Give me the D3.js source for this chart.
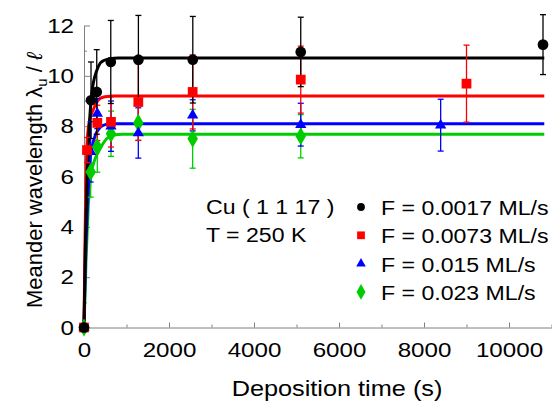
<!DOCTYPE html>
<html><head><meta charset="utf-8">
<script src="https://cdn.jsdelivr.net/npm/d3@7"></script>
<style>
html,body{margin:0;padding:0;background:#fff;}
svg{display:block;font-family:"Liberation Sans",Arial,sans-serif;}
</style></head>
<body>
<svg id="chart" width="552" height="402"></svg>
<script>
// ---- data ----
const seriesNames = ["F = 0.0017 ML/s", "F = 0.0073 ML/s", "F = 0.015 ML/s", "F = 0.023 ML/s"];
const seriesColors = ["#000000", "#ff0000", "#0000ff", "#00cc00"];

const timesBlack = [0, 165, 300, 630, 1280, 2560, 5100, 10800];
const valuesBlack = [0, 9.03, 9.36, 10.55, 10.64, 10.64, 10.95, 11.24];
const errBlack = [0, 1.52, 1.68, 1.65, 1.76, 1.72, 1.38, 1.19];

const timesRed = [0, 70, 313, 635, 1278, 2557, 5100, 9000];
const valuesRed = [0, 7.05, 8.13, 8.17, 8.96, 9.36, 9.85, 9.69];
const errRed = [0, 0.5, 0.7, 1.0, 1.52, 1.47, 1.33, 1.53];

const timesBlue = [0, 157, 313, 635, 1278, 2557, 5100, 8392];
const valuesBlue = [0, 6.98, 8.5, 8.0, 7.73, 8.43, 8.06, 8.04];
const errBlue = [0, 1.2, 0.6, 1.0, 1.0, 0.62, 0.85, 1.03];

const timesGreen = [0, 157, 313, 635, 1278, 2557, 5100];
const valuesGreen = [0, 6.18, 7.17, 7.7, 8.13, 7.5, 7.6];
const errGreen = [0, 1.0, 1.0, 0.9, 0.7, 1.17, 0.86];

// fitted saturation curves
const fitBlackT = [0, 25, 50, 75, 100, 141, 180, 220, 298, 380, 454, 612, 800, 10830];
const fitBlackV = [0, 2.6, 4.56, 6.05, 7.19, 8.47, 9.26, 9.72, 10.2, 10.5, 10.6, 10.68, 10.71, 10.71];
const fitRedT = [0, 20, 40, 63, 100, 150, 217, 300, 376, 500, 700, 10830];
const fitRedV = [0, 3.0, 5.3, 7.0, 7.9, 8.35, 8.65, 8.95, 9.1, 9.17, 9.2, 9.2];
const fitBlueT = [0, 25, 50, 75, 100, 141, 200, 259, 376, 500, 700, 10830];
const fitBlueV = [0, 2.0, 3.5, 4.6, 5.5, 6.6, 7.25, 7.6, 7.95, 8.06, 8.1, 8.1];
const fitGreenT = [0, 50, 100, 157, 260, 376, 533, 690, 900, 10830];
const fitGreenV = [0, 2.8, 4.8, 6.0, 6.7, 7.1, 7.5, 7.64, 7.68, 7.68];

const xMajorTicks = [0, 2000, 4000, 6000, 8000, 10000];
const xMinorTicks = [1000, 3000, 5000, 7000, 9000, 11000];
const yMajorTicks = [0, 2, 4, 6, 8, 10, 12];
const yMinorTicks = [1, 3, 5, 7, 9, 11];

const xTitle = "Deposition time (s)";
const sampleLabel = ["Cu ( 1 1 17 )", "T = 250 K"];

// ---- build ----
const series = [
  {t: timesGreen, v: valuesGreen, e: errGreen, ft: fitGreenT, fv: fitGreenV, color: seriesColors[3], sym: d3.symbolDiamond, size: 95, lsize: 70},
  {t: timesBlue, v: valuesBlue, e: errBlue, ft: fitBlueT, fv: fitBlueV, color: seriesColors[2], sym: d3.symbolTriangle, size: 55, lsize: 40},
  {t: timesRed, v: valuesRed, e: errRed, ft: fitRedT, fv: fitRedV, color: seriesColors[1], sym: d3.symbolSquare, size: 95, lsize: 60},
  {t: timesBlack, v: valuesBlack, e: errBlack, ft: fitBlackT, fv: fitBlackV, color: seriesColors[0], sym: d3.symbolCircle, size: 90, lsize: 48}
];

const svg = d3.select("#chart");
const FS = 21;
const SX_AXIS = 1.15, SX_LEG = 1.1;
const x = d3.scaleLinear().domain([0, 11000]).range([84, 551.5]);
const y = d3.scaleLinear().domain([0, 12]).range([327.5, 25.5]);
const axisColor = "#808080";

function hText(px, py, str, fs, sx, anchor) {
  return svg.append("text")
    .attr("transform", `translate(${px},${py}) scale(${sx},1)`)
    .attr("text-anchor", anchor || "start").attr("font-size", fs).text(str);
}

// axes
svg.append("g").attr("transform", `translate(0,${y(0)})`)
  .call(d3.axisBottom(x).tickValues(xMajorTicks).tickSize(-5).tickSizeOuter(0).tickPadding(15).tickFormat(d3.format("d")))
  .call(g => g.selectAll(".tick text").attr("transform", `scale(${SX_AXIS},1)`));
svg.append("g").attr("transform", `translate(0,${y(0)})`)
  .call(d3.axisBottom(x).tickValues(xMinorTicks).tickSize(-3).tickSizeOuter(0).tickFormat(""))
  .call(g => g.select(".domain").remove());
svg.append("g").attr("transform", `translate(${x(0)},0)`)
  .call(d3.axisLeft(y).tickValues(yMajorTicks).tickSize(-6).tickSizeOuter(0).tickPadding(10))
  .call(g => g.selectAll(".tick text").attr("x", -10 / SX_AXIS).attr("transform", `scale(${SX_AXIS},1)`));
svg.append("g").attr("transform", `translate(${x(0)},0)`)
  .call(d3.axisLeft(y).tickValues(yMinorTicks).tickSize(-3).tickSizeOuter(0).tickFormat(""))
  .call(g => g.select(".domain").remove());
svg.selectAll(".domain, .tick line").attr("stroke", axisColor).attr("stroke-width", 1);
svg.selectAll(".tick text").attr("font-size", FS).attr("fill", "#000")
  .attr("font-family", "'Liberation Sans', Arial, sans-serif");

// axis titles
hText(337, 396, xTitle, FS + 1, SX_AXIS, "middle");
const yt = svg.append("text").attr("transform", `translate(42,${(y(0) + y(12)) / 2 + 4}) rotate(-90)`)
  .attr("text-anchor", "middle").attr("font-size", FS + 1);
yt.append("tspan").text("Meander wavelength \u03bb");
yt.append("tspan").attr("font-size", FS - 6).attr("dy", 5).text("u");
yt.append("tspan").attr("dy", -5).text(" / ");
yt.append("tspan").attr("font-style", "italic").text("\u2113");

// curves, error bars, points
const line = d3.line().x(d => x(d[0])).y(d => y(d[1])).curve(d3.curveMonotoneX);
series.forEach(s => {
  const pts = s.ft.map((t, i) => [t, s.fv[i]]);
  svg.append("path").datum(pts).attr("d", line).attr("fill", "none")
    .attr("stroke", s.color).attr("stroke-width", 3);
});
series.forEach(s => {
  const g = svg.append("g");
  const data = s.t.map((t, i) => ({t, v: s.v[i], e: s.e[i]})).filter(d => d.e > 0);
  g.selectAll("line.eb").data(data).join("line").attr("class", "eb")
    .attr("x1", d => x(d.t)).attr("x2", d => x(d.t))
    .attr("y1", d => y(d.v - d.e)).attr("y2", d => y(d.v + d.e))
    .attr("stroke", s.color).attr("stroke-width", 1.3);
  ["-", "+"].forEach(sg => {
    g.selectAll("line.cap" + (sg === "-" ? "l" : "u")).data(data).join("line")
      .attr("x1", d => x(d.t) - 3).attr("x2", d => x(d.t) + 3)
      .attr("y1", d => y(sg === "-" ? d.v - d.e : d.v + d.e))
      .attr("y2", d => y(sg === "-" ? d.v - d.e : d.v + d.e))
      .attr("stroke", s.color).attr("stroke-width", 1.3);
  });
});
series.forEach(s => {
  svg.append("g").selectAll("path").data(s.t.map((t, i) => [t, s.v[i]])).join("path")
    .attr("transform", d => `translate(${x(d[0])},${y(d[1])})`)
    .attr("d", d3.symbol().type(s.sym).size(s.size)).attr("fill", s.color);
});

// sample label
hText(206, 214, sampleLabel[0], FS, SX_LEG);
hText(206, 242, sampleLabel[1], FS, SX_LEG);

// legend
const legendOrder = [3, 2, 1, 0];
legendOrder.forEach((si, k) => {
  const s = series[si];
  const ly = 207 + k * 28.3;
  svg.append("path").attr("transform", `translate(361,${ly})`)
    .attr("d", d3.symbol().type(s.sym).size(s.lsize)).attr("fill", s.color);
  hText(381, ly + 8, seriesNames[k], FS, SX_LEG);
});
</script>
</body></html>
